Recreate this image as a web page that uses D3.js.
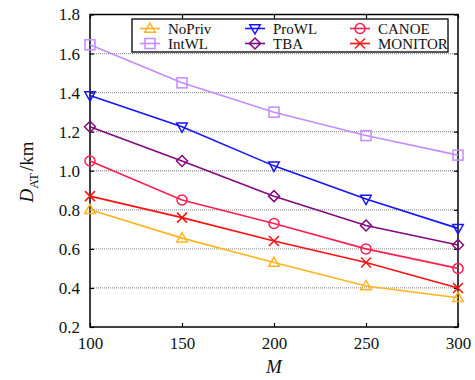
<!DOCTYPE html>
<html>
<head>
<meta charset="utf-8">
<script src="https://cdn.jsdelivr.net/npm/d3@7"></script>
<style>
  html, body { margin: 0; padding: 0; background: #fff; }
  svg { display: block; font-family: "Liberation Serif", "Times New Roman", serif; }
</style>
</head>
<body>
<svg id="chart" width="475" height="380"></svg>
<script>
// Average distance D_AT (km) versus number of users M
const mValues = [100, 150, 200, 250, 300];
const noPriv  = [0.80, 0.655, 0.53, 0.41, 0.35];
const intWL   = [1.645, 1.45, 1.30, 1.18, 1.08];
const proWL   = [1.385, 1.225, 1.025, 0.855, 0.705];
const tba     = [1.225, 1.05, 0.87, 0.72, 0.62];
const canoe   = [1.05, 0.85, 0.73, 0.60, 0.50];
const monitor = [0.87, 0.76, 0.64, 0.53, 0.40];
const xTicks  = [100, 150, 200, 250, 300];
const yTicks  = [0.2, 0.4, 0.6, 0.8, 1.0, 1.2, 1.4, 1.6, 1.8];

const series = [
  { name: "NoPriv",  values: noPriv,  color: "#ffb41e", marker: "triUp" },
  { name: "IntWL",   values: intWL,   color: "#c38cff", marker: "square" },
  { name: "ProWL",   values: proWL,   color: "#1414ff", marker: "triDown" },
  { name: "TBA",     values: tba,     color: "#82087f", marker: "diamond" },
  { name: "CANOE",   values: canoe,   color: "#ff1e50", marker: "circle" },
  { name: "MONITOR", values: monitor, color: "#ff1010", marker: "cross" }
];

const svg = d3.select("#chart");
const plotLeft = 90, plotRight = 458, plotTop = 14.5, plotBottom = 327;

const x = d3.scaleLinear().domain([100, 300]).range([plotLeft, plotRight]);
const y = d3.scaleLinear().domain([0.2, 1.8]).range([plotBottom, plotTop]);

// dotted horizontal grid
svg.append("g").selectAll("line").data(yTicks.slice(1, -1)).join("line")
  .attr("x1", plotLeft).attr("x2", plotRight)
  .attr("y1", d => y(d)).attr("y2", d => y(d))
  .attr("stroke", "#999").attr("stroke-width", 1.3)
  .attr("stroke-dasharray", "1,1");

// axes with inward ticks
const fmt = d3.format(".1f");
const gx = svg.append("g").attr("transform", `translate(0,${plotBottom})`)
  .call(d3.axisBottom(x).tickValues(xTicks).tickSize(-4).tickPadding(10).tickFormat(d3.format("d")));
const gxTop = svg.append("g").attr("transform", `translate(0,${plotTop})`)
  .call(d3.axisTop(x).tickValues(xTicks).tickSize(-4).tickFormat(""));
const gy = svg.append("g").attr("transform", `translate(${plotLeft},0)`)
  .call(d3.axisLeft(y).tickValues(yTicks).tickSize(-4).tickPadding(10).tickFormat(fmt));
const gyR = svg.append("g").attr("transform", `translate(${plotRight},0)`)
  .call(d3.axisRight(y).tickValues(yTicks).tickSize(-4).tickFormat(""));

[gx, gxTop, gy, gyR].forEach(g => {
  g.select(".domain").remove();
  g.selectAll(".tick line").attr("stroke", "#000").attr("stroke-width", 1.2);
  g.selectAll("text").attr("font-family", "Liberation Serif").attr("font-size", 17).attr("fill", "#111");
});

// frame
svg.append("rect").attr("x", plotLeft).attr("y", plotTop)
  .attr("width", plotRight - plotLeft).attr("height", plotBottom - plotTop)
  .attr("fill", "none").attr("stroke", "#000").attr("stroke-width", 1.5);

// marker shapes
function drawMarker(g, type, cx, cy, color) {
  const s = 5;
  const common = sel => sel.attr("fill", "none").attr("stroke", color).attr("stroke-width", 1.5);
  if (type === "circle") {
    common(g.append("circle").attr("cx", cx).attr("cy", cy).attr("r", s));
  } else if (type === "square") {
    common(g.append("rect").attr("x", cx - s).attr("y", cy - s).attr("width", 2 * s).attr("height", 2 * s));
  } else if (type === "triUp") {
    common(g.append("path").attr("d", `M${cx},${cy - s * 1.1}L${cx + s * 1.05},${cy + s * 0.75}L${cx - s * 1.05},${cy + s * 0.75}Z`));
  } else if (type === "triDown") {
    common(g.append("path").attr("d", `M${cx},${cy + s * 1.1}L${cx + s * 1.05},${cy - s * 0.75}L${cx - s * 1.05},${cy - s * 0.75}Z`));
  } else if (type === "diamond") {
    common(g.append("path").attr("d", `M${cx},${cy - s * 1.1}L${cx + s * 1.1},${cy}L${cx},${cy + s * 1.1}L${cx - s * 1.1},${cy}Z`));
  } else if (type === "cross") {
    common(g.append("path").attr("d", `M${cx - s},${cy - s}L${cx + s},${cy + s}M${cx - s},${cy + s}L${cx + s},${cy - s}`));
  }
}

const line = d3.line().x((d, i) => x(mValues[i])).y(d => y(d));
const plot = svg.append("g");
series.forEach(s => {
  plot.append("path").datum(s.values).attr("d", line)
    .attr("fill", "none").attr("stroke", s.color).attr("stroke-width", 1.6);
  const mg = plot.append("g");
  s.values.forEach((v, i) => drawMarker(mg, s.marker, x(mValues[i]), y(v), s.color));
});

// legend
const legend = svg.append("g");
legend.append("rect").attr("x", 132).attr("y", 19).attr("width", 316).attr("height", 33)
  .attr("fill", "#fff").attr("stroke", "#000").attr("stroke-width", 1.3);
const colX = [140, 245, 350];
const rowY = [28.5, 43.5];
const order = [[0, 1], [2, 3], [4, 5]];
order.forEach((pair, c) => {
  pair.forEach((idx, r) => {
    const s = series[idx];
    const lx = colX[c], ly = rowY[r];
    legend.append("line").attr("x1", lx).attr("x2", lx + 20).attr("y1", ly).attr("y2", ly)
      .attr("stroke", s.color).attr("stroke-width", 1.6);
    drawMarker(legend, s.marker, lx + 10, ly, s.color);
    legend.append("text").attr("x", lx + 28).attr("y", ly).attr("dy", "0.35em")
      .attr("font-size", 15).attr("fill", "#111").text(s.name);
  });
});

// axis titles
svg.append("text").attr("x", (plotLeft + plotRight) / 2).attr("y", 373)
  .attr("text-anchor", "middle").attr("font-size", 19).attr("font-style", "italic")
  .attr("fill", "#111").text("M");

const yt = svg.append("text").attr("transform", "translate(33,172) rotate(-90)")
  .attr("text-anchor", "middle").attr("font-size", 19).attr("fill", "#111");
yt.append("tspan").attr("font-style", "italic").text("D");
yt.append("tspan").attr("font-size", 13).attr("dy", 5).text("AT");
yt.append("tspan").attr("dy", -5).attr("dx", 2).text("/km");
</script>
</body>
</html>
